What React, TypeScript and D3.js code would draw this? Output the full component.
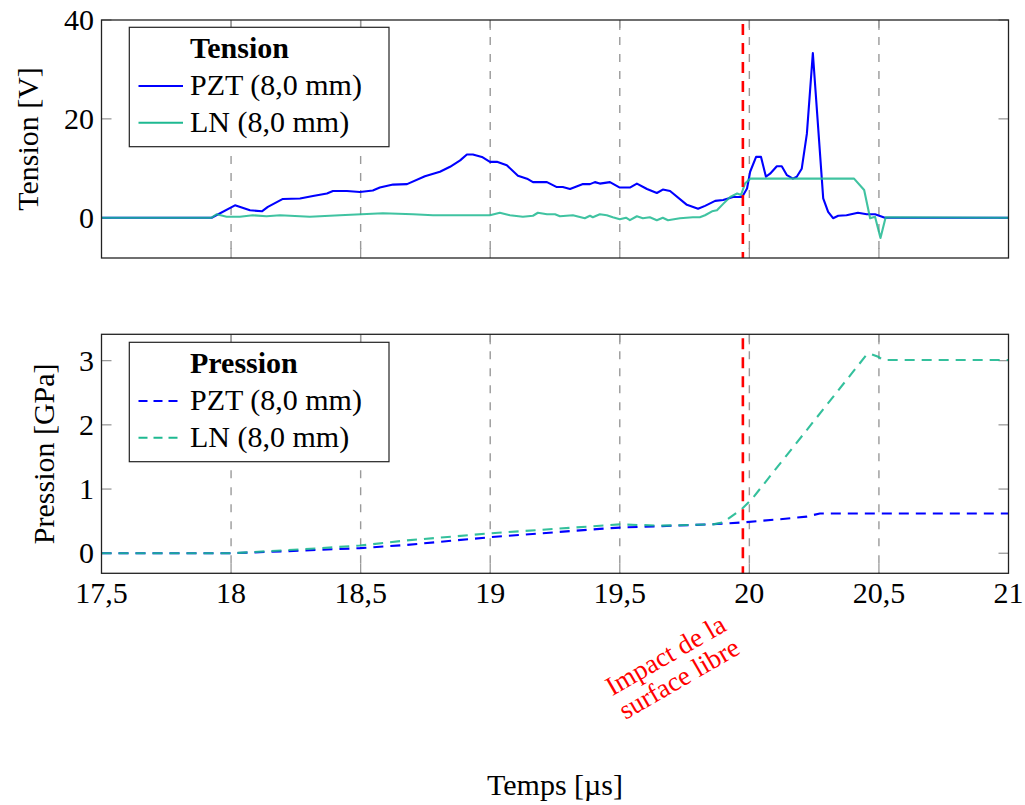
import React from "react";
import * as d3 from "d3";

// ---------- data ----------
const xTickValues = [17.5, 18, 18.5, 19, 19.5, 20, 20.5, 21];
const xTickLabels = ["17,5", "18", "18,5", "19", "19,5", "20", "20,5", "21"];
const gridValues = [18, 18.5, 19, 19.5, 20, 20.5];
const tensionTicks = [0, 20, 40];
const pressionTicks = [0, 1, 2, 3];
const impactTime = 19.975;

const pztTensionTime = [
  17.5, 17.925, 18.015, 18.073, 18.119, 18.142, 18.2, 18.266, 18.316, 18.37, 18.393, 18.447,
  18.497, 18.547, 18.574, 18.625, 18.679, 18.748, 18.806, 18.845, 18.884, 18.91, 18.933,
  18.968, 18.999, 19.026, 19.064, 19.107, 19.142, 19.165, 19.219, 19.257, 19.28, 19.308,
  19.358, 19.385, 19.404, 19.423, 19.462, 19.5, 19.539, 19.566, 19.605, 19.643, 19.666,
  19.694, 19.759, 19.802, 19.829, 19.868, 19.899, 19.937, 19.972, 19.991, 20.003, 20.026,
  20.045, 20.064, 20.08, 20.106, 20.125, 20.145, 20.168, 20.183, 20.202, 20.222, 20.245,
  20.285, 20.304, 20.323, 20.343, 20.375, 20.419, 20.453, 20.485, 20.523, 21,
];
const pztTensionValue = [
  0, 0, 2.5, 1.5, 1.3, 2.2, 3.8, 3.9, 4.4, 4.9, 5.4, 5.4,
  5.2, 5.5, 6.1, 6.7, 6.8, 8.4, 9.3, 10.3, 11.6, 12.8, 12.8,
  12.3, 11.3, 11.3, 10.6, 8.5, 7.9, 7.2, 7.2, 6.2, 6.2, 5.8,
  6.8, 6.8, 7.2, 6.9, 7.2, 6.1, 6.1, 6.9, 5.8, 5.0, 5.7,
  5.4, 2.6, 1.8, 2.4, 3.4, 3.6, 4.2, 4.2, 5.9, 9.3, 12.3,
  12.3, 8.3, 8.9, 10.4, 10.4, 8.6, 7.9, 8.3, 9.9, 17.0, 33.3,
  3.9, 1.2, -0.1, 0.4, 0.5, 1.0, 0.7, 0.7, 0, 0,
];

const lnTensionTime = [
  17.5, 17.925, 17.944, 17.983, 18.034, 18.084, 18.137, 18.189, 18.304, 18.42, 18.586,
  18.702, 18.779, 18.91, 18.999, 19.037, 19.076, 19.126, 19.165, 19.184, 19.219, 19.25,
  19.269, 19.319, 19.365, 19.385, 19.396, 19.423, 19.45, 19.473, 19.5, 19.524, 19.539,
  19.566, 19.589, 19.616, 19.643, 19.666, 19.686, 19.732, 19.782, 19.809, 19.829, 19.856,
  19.875, 19.899, 19.926, 19.953, 19.968, 19.983, 20.003, 20.404, 20.443, 20.466, 20.485,
  20.506, 20.526, 21,
];
const lnTensionValue = [
  0, 0, 0.7, 0.2, 0.2, 0.5, 0.3, 0.5, 0.2, 0.5, 0.9,
  0.7, 0.5, 0.5, 0.5, 1.0, 0.5, 0.2, 0.4, 1.0, 0.7, 0.7,
  0.3, 0.5, -0.1, 0.4, 0.1, 0.7, 0.5, 0.1, -0.3, 0, -0.5,
  0.3, -0.1, 0.1, -0.5, 0, -0.5, -0.1, 0.1, 0.1, 0.5, 1.3,
  1.5, 2.8, 4.2, 4.9, 4.6, 6.9, 7.9, 7.9, 5.6, -0.1, 0.2,
  -4.1, 0.1, 0,
];

const pztPressionTime = [
  17.5, 18.0, 18.266, 18.497, 18.678, 18.999, 19.423, 19.5, 19.848, 19.975, 20.117,
  20.221, 20.272, 21,
];
const pztPressionValue = [
  0, 0, 0.04, 0.08, 0.13, 0.25, 0.38, 0.4, 0.45, 0.48, 0.53, 0.57, 0.62, 0.62,
];

const lnPressionTime = [
  17.5, 18.0, 18.266, 18.497, 18.678, 18.999, 19.5, 19.655, 19.86, 19.899, 19.974,
  20.013, 20.452, 20.471, 20.497, 20.516, 21,
];
const lnPressionValue = [
  0, 0, 0.06, 0.12, 0.2, 0.31, 0.45, 0.43, 0.45, 0.48, 0.7, 0.86, 3.09, 3.1, 3.06,
  3.01, 3.01,
];

// ---------- styling ----------
const FONT = "'Liberation Serif', 'Times New Roman', serif";
const FS = 30;
const BLUE = "#0000ff";
const GREEN = "rgb(30,185,145)";
const GRID = "#9a9a9a";

const W = 1025;
const H = 805;
const left = 101.5;
const right = 1008.5;
const topPanel = { top: 20, bottom: 258 };
const botPanel = { top: 334.3, bottom: 573.3 };

const x = d3.scaleLinear().domain([17.5, 21]).range([left, right]);
const yT = d3.scaleLinear().domain([-8.15, 40]).range([topPanel.bottom, topPanel.top]);
const yP = d3.scaleLinear().domain([-0.312, 3.41]).range([botPanel.bottom, botPanel.top]);

function pts(t: number[], v: number[]) {
  return t.map((tt, i) => [tt, v[i]] as [number, number]);
}

function Panel({
  panel,
  y,
  yTicks,
  children,
}: {
  panel: { top: number; bottom: number };
  y: d3.ScaleLinear<number, number>;
  yTicks: number[];
  children?: React.ReactNode;
}) {
  const tl = 10;
  return (
    <g>
      {gridValues.map((g) => (
        <line
          key={"g" + g}
          x1={x(g)}
          x2={x(g)}
          y1={panel.top}
          y2={panel.bottom}
          stroke={GRID}
          strokeWidth={1.4}
          strokeDasharray="8,9"
        />
      ))}
      {gridValues.map((g) => (
        <g key={"xt" + g}>
          <line x1={x(g)} x2={x(g)} y1={panel.bottom} y2={panel.bottom - tl} stroke={GRID} strokeWidth={1.3} />
          <line x1={x(g)} x2={x(g)} y1={panel.top} y2={panel.top + tl} stroke={GRID} strokeWidth={1.3} />
        </g>
      ))}
      {yTicks.map((t) => (
        <g key={"yt" + t}>
          <line x1={left} x2={left + tl} y1={y(t)} y2={y(t)} stroke={GRID} strokeWidth={1.3} />
          <line x1={right} x2={right - tl} y1={y(t)} y2={y(t)} stroke={GRID} strokeWidth={1.3} />
          <text
            x={94}
            y={y(t)}
            dy="0.34em"
            textAnchor="end"
            fontFamily={FONT}
            fontSize={FS}
            fill="#000"
          >
            {t}
          </text>
        </g>
      ))}
      {children}
      <line
        x1={x(impactTime)}
        x2={x(impactTime)}
        y1={panel.top + 4}
        y2={panel.bottom}
        stroke="#ff0000"
        strokeWidth={2.6}
        strokeDasharray="11,8"
      />
      <rect
        x={left}
        y={panel.top}
        width={right - left}
        height={panel.bottom - panel.top}
        fill="none"
        stroke="#222"
        strokeWidth={1.3}
      />
    </g>
  );
}

function Legend({
  top,
  title,
  dashed,
}: {
  top: number;
  title: string;
  dashed: boolean;
}) {
  const bx = 129.3;
  const bw = 259.7;
  const bh = 119.4;
  const dash = dashed ? "9,6" : undefined;
  return (
    <g>
      <rect x={bx} y={top} width={bw} height={bh} fill="#fff" stroke="#222" strokeWidth={1.2} />
      <text x={190} y={top + 31} fontFamily={FONT} fontSize={FS} fontWeight="bold">
        {title}
      </text>
      <line x1={138.5} x2={183} y1={top + 58.7} y2={top + 58.7} stroke={BLUE} strokeWidth={2} strokeDasharray={dash} />
      <text x={190} y={top + 67.7} fontFamily={FONT} fontSize={FS}>
        PZT (8,0 mm)
      </text>
      <line x1={138.5} x2={183} y1={top + 95.4} y2={top + 95.4} stroke={GREEN} strokeWidth={2} strokeDasharray={dash} />
      <text x={190} y={top + 104.4} fontFamily={FONT} fontSize={FS}>
        LN (8,0 mm)
      </text>
    </g>
  );
}

export default function App() {
  const lineT = d3
    .line<[number, number]>()
    .x((d) => x(d[0]))
    .y((d) => yT(d[1]));
  const lineP = d3
    .line<[number, number]>()
    .x((d) => x(d[0]))
    .y((d) => yP(d[1]));

  return (
    <svg
      width={W}
      height={H}
      viewBox={`0 0 ${W} ${H}`}
      style={{ position: "absolute", left: 0, top: 0, background: "#fff" }}
    >
      <rect x={0} y={0} width={W} height={H} fill="#fff" />
      <Panel panel={topPanel} y={yT} yTicks={tensionTicks}>
        <path d={lineT(pts(pztTensionTime, pztTensionValue)) || ""} fill="none" stroke={BLUE} strokeWidth={2.1} strokeLinejoin="round" />
        <path d={lineT(pts(lnTensionTime, lnTensionValue)) || ""} fill="none" stroke={GREEN} strokeOpacity={0.85} strokeWidth={2.1} strokeLinejoin="round" />
      </Panel>
      <Legend top={27.3} title="Tension" dashed={false} />

      <Panel panel={botPanel} y={yP} yTicks={pressionTicks}>
        <path d={lineP(pts(pztPressionTime, pztPressionValue)) || ""} fill="none" stroke={BLUE} strokeWidth={2.1} strokeDasharray="10,7" />
        <path d={lineP(pts(lnPressionTime, lnPressionValue)) || ""} fill="none" stroke={GREEN} strokeOpacity={0.9} strokeWidth={2.1} strokeDasharray="10,7" />
      </Panel>
      <Legend top={342.3} title="Pression" dashed={true} />

      {xTickValues.map((t, i) => (
        <text
          key={"xl" + t}
          x={x(t)}
          y={602.7}
          textAnchor="middle"
          fontFamily={FONT}
          fontSize={FS}
        >
          {xTickLabels[i]}
        </text>
      ))}

      <text
        transform={`translate(27, ${(topPanel.top + topPanel.bottom) / 2}) rotate(-90)`}
        textAnchor="middle"
        dy="0.35em"
        fontFamily={FONT}
        fontSize={FS}
      >
        Tension [V]
      </text>
      <text
        transform={`translate(43, ${(botPanel.top + botPanel.bottom) / 2}) rotate(-90)`}
        textAnchor="middle"
        dy="0.35em"
        fontFamily={FONT}
        fontSize={FS}
      >
        Pression [GPa]
      </text>

      <text x={(left + right) / 2} y={795} textAnchor="middle" fontFamily={FONT} fontSize={FS}>
        Temps [µs]
      </text>

      <g transform="translate(670, 663) rotate(-30)">
        <text textAnchor="middle" fontFamily={FONT} fontSize={27} fill="#ff0000">
          <tspan x={0} y={0}>Impact de la</tspan>
          <tspan x={0} y={27}>surface libre</tspan>
        </text>
      </g>
    </svg>
  );
}
